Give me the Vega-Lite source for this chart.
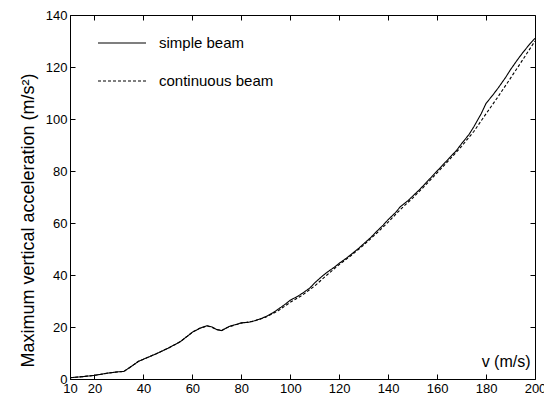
{
  "$schema": "https://vega.github.io/schema/vega-lite/v6.json",
  "width": 465,
  "height": 364,
  "autosize": {"type": "none"},
  "padding": {"left": 70, "top": 15, "right": 9, "bottom": 23},
  "background": "white",
  "config": {
    "view": {"stroke": "black", "strokeWidth": 1},
    "font": "Liberation Sans",
    "axis": {
      "domainColor": "black",
      "tickColor": "black",
      "labelColor": "black",
      "titleColor": "black",
      "grid": false,
      "labelFont": "Liberation Sans",
      "titleFont": "Liberation Sans",
      "labelFontSize": 13,
      "titleFontSize": 18,
      "titleFontWeight": "normal",
      "tickSize": -5
    }
  },
  "data": {
    "values": [
      {"v": 10, "a": 0.5, "s": "simple beam"},
      {"v": 15, "a": 0.9, "s": "simple beam"},
      {"v": 20, "a": 1.4, "s": "simple beam"},
      {"v": 25, "a": 2.2, "s": "simple beam"},
      {"v": 30, "a": 2.8, "s": "simple beam"},
      {"v": 32, "a": 2.9, "s": "simple beam"},
      {"v": 35, "a": 4.8, "s": "simple beam"},
      {"v": 38, "a": 6.8, "s": "simple beam"},
      {"v": 40, "a": 7.6, "s": "simple beam"},
      {"v": 45, "a": 9.6, "s": "simple beam"},
      {"v": 50, "a": 11.8, "s": "simple beam"},
      {"v": 55, "a": 14.3, "s": "simple beam"},
      {"v": 58, "a": 16.5, "s": "simple beam"},
      {"v": 60, "a": 18.0, "s": "simple beam"},
      {"v": 63, "a": 19.5, "s": "simple beam"},
      {"v": 66, "a": 20.5, "s": "simple beam"},
      {"v": 68, "a": 20.0, "s": "simple beam"},
      {"v": 70, "a": 19.0, "s": "simple beam"},
      {"v": 72, "a": 18.6, "s": "simple beam"},
      {"v": 75, "a": 20.2, "s": "simple beam"},
      {"v": 78, "a": 21.0, "s": "simple beam"},
      {"v": 80, "a": 21.6, "s": "simple beam"},
      {"v": 83, "a": 21.8, "s": "simple beam"},
      {"v": 85, "a": 22.3, "s": "simple beam"},
      {"v": 88, "a": 23.2, "s": "simple beam"},
      {"v": 90, "a": 24.0, "s": "simple beam"},
      {"v": 93, "a": 25.5, "s": "simple beam"},
      {"v": 95, "a": 26.8, "s": "simple beam"},
      {"v": 98, "a": 28.8, "s": "simple beam"},
      {"v": 100, "a": 30.3, "s": "simple beam"},
      {"v": 103, "a": 31.8, "s": "simple beam"},
      {"v": 105, "a": 33.0, "s": "simple beam"},
      {"v": 108, "a": 35.0, "s": "simple beam"},
      {"v": 110, "a": 37.0, "s": "simple beam"},
      {"v": 113, "a": 39.5, "s": "simple beam"},
      {"v": 115, "a": 41.0, "s": "simple beam"},
      {"v": 118, "a": 43.0, "s": "simple beam"},
      {"v": 120, "a": 44.5, "s": "simple beam"},
      {"v": 123, "a": 46.5, "s": "simple beam"},
      {"v": 125, "a": 48.0, "s": "simple beam"},
      {"v": 128, "a": 50.3, "s": "simple beam"},
      {"v": 130, "a": 52.0, "s": "simple beam"},
      {"v": 133, "a": 54.5, "s": "simple beam"},
      {"v": 135, "a": 56.5, "s": "simple beam"},
      {"v": 138, "a": 59.2, "s": "simple beam"},
      {"v": 140, "a": 61.3, "s": "simple beam"},
      {"v": 143, "a": 64.0, "s": "simple beam"},
      {"v": 145, "a": 66.3, "s": "simple beam"},
      {"v": 148, "a": 68.5, "s": "simple beam"},
      {"v": 150, "a": 70.3, "s": "simple beam"},
      {"v": 153, "a": 73.0, "s": "simple beam"},
      {"v": 155, "a": 75.0, "s": "simple beam"},
      {"v": 158, "a": 78.0, "s": "simple beam"},
      {"v": 160, "a": 80.0, "s": "simple beam"},
      {"v": 163, "a": 83.0, "s": "simple beam"},
      {"v": 165, "a": 85.0, "s": "simple beam"},
      {"v": 168, "a": 88.0, "s": "simple beam"},
      {"v": 170, "a": 90.5, "s": "simple beam"},
      {"v": 173, "a": 94.0, "s": "simple beam"},
      {"v": 175, "a": 97.0, "s": "simple beam"},
      {"v": 178, "a": 102.0, "s": "simple beam"},
      {"v": 180, "a": 106.0, "s": "simple beam"},
      {"v": 183, "a": 109.5, "s": "simple beam"},
      {"v": 185, "a": 112.0, "s": "simple beam"},
      {"v": 188, "a": 116.0, "s": "simple beam"},
      {"v": 190, "a": 119.0, "s": "simple beam"},
      {"v": 193, "a": 123.0, "s": "simple beam"},
      {"v": 195, "a": 125.5, "s": "simple beam"},
      {"v": 198, "a": 129.0, "s": "simple beam"},
      {"v": 200, "a": 131.0, "s": "simple beam"},
      {"v": 10, "a": 0.5, "s": "continuous beam"},
      {"v": 15, "a": 0.9, "s": "continuous beam"},
      {"v": 20, "a": 1.4, "s": "continuous beam"},
      {"v": 25, "a": 2.2, "s": "continuous beam"},
      {"v": 30, "a": 2.8, "s": "continuous beam"},
      {"v": 32, "a": 2.9, "s": "continuous beam"},
      {"v": 35, "a": 4.8, "s": "continuous beam"},
      {"v": 38, "a": 6.8, "s": "continuous beam"},
      {"v": 40, "a": 7.6, "s": "continuous beam"},
      {"v": 45, "a": 9.6, "s": "continuous beam"},
      {"v": 50, "a": 11.8, "s": "continuous beam"},
      {"v": 55, "a": 14.3, "s": "continuous beam"},
      {"v": 58, "a": 16.5, "s": "continuous beam"},
      {"v": 60, "a": 18.0, "s": "continuous beam"},
      {"v": 63, "a": 19.5, "s": "continuous beam"},
      {"v": 66, "a": 20.4, "s": "continuous beam"},
      {"v": 68, "a": 19.9, "s": "continuous beam"},
      {"v": 70, "a": 19.0, "s": "continuous beam"},
      {"v": 72, "a": 18.7, "s": "continuous beam"},
      {"v": 75, "a": 20.1, "s": "continuous beam"},
      {"v": 80, "a": 21.5, "s": "continuous beam"},
      {"v": 85, "a": 22.2, "s": "continuous beam"},
      {"v": 90, "a": 23.8, "s": "continuous beam"},
      {"v": 95, "a": 26.2, "s": "continuous beam"},
      {"v": 100, "a": 29.5, "s": "continuous beam"},
      {"v": 105, "a": 32.3, "s": "continuous beam"},
      {"v": 110, "a": 35.8, "s": "continuous beam"},
      {"v": 115, "a": 40.0, "s": "continuous beam"},
      {"v": 120, "a": 44.0, "s": "continuous beam"},
      {"v": 125, "a": 47.6, "s": "continuous beam"},
      {"v": 130, "a": 51.5, "s": "continuous beam"},
      {"v": 135, "a": 55.8, "s": "continuous beam"},
      {"v": 140, "a": 60.3, "s": "continuous beam"},
      {"v": 145, "a": 65.2, "s": "continuous beam"},
      {"v": 150, "a": 69.6, "s": "continuous beam"},
      {"v": 155, "a": 74.3, "s": "continuous beam"},
      {"v": 160, "a": 79.3, "s": "continuous beam"},
      {"v": 165, "a": 84.3, "s": "continuous beam"},
      {"v": 170, "a": 89.5, "s": "continuous beam"},
      {"v": 175, "a": 95.2, "s": "continuous beam"},
      {"v": 180, "a": 102.0, "s": "continuous beam"},
      {"v": 185, "a": 108.7, "s": "continuous beam"},
      {"v": 190, "a": 115.7, "s": "continuous beam"},
      {"v": 195, "a": 122.8, "s": "continuous beam"},
      {"v": 200, "a": 130.0, "s": "continuous beam"}
    ]
  },
  "layer": [
    {
      "mark": {"type": "line", "color": "black", "strokeWidth": 1.1},
      "encoding": {
        "x": {
          "field": "v", "type": "quantitative",
          "scale": {"domain": [10, 200], "nice": false, "zero": false},
          "axis": {"values": [10, 20, 40, 60, 80, 100, 120, 140, 160, 180, 200], "title": "v (m/s)",
            "labelPadding": 8, "labelFlush": false, "titleX": 460, "titleY": -10, "titleAlign": "right", "titleBaseline": "bottom", "titleFontSize": 16}
        },
        "y": {
          "field": "a", "type": "quantitative",
          "scale": {"domain": [0, 140], "nice": false},
          "axis": {"values": [0, 20, 40, 60, 80, 100, 120, 140], "title": "Maximum vertical acceleration (m/s²)", "labelPadding": 8, "titlePadding": 8, "titleY": 205}
        },
        "strokeDash": {
          "field": "s", "type": "nominal",
          "scale": {"domain": ["simple beam", "continuous beam"], "range": [[1, 0], [3, 2]]},
          "legend": {
            "title": null, "orient": "none", "legendX": 27, "legendY": 3,
            "symbolType": "stroke", "symbolSize": 2304, "symbolStrokeWidth": 1.1, "symbolStrokeColor": "black",
            "labelFontSize": 15, "labelFont": "Liberation Sans", "labelColor": "black", "labelOffset": 12, "rowPadding": 5
          }
        }
      }
    },
    {
      "mark": {"type": "line", "opacity": 0},
      "encoding": {
        "x": {"field": "v", "type": "quantitative", "axis": {"orient": "top", "values": [20, 40, 60, 80, 100, 120, 140, 160, 180, 200], "labels": false, "title": null, "domain": false}},
        "y": {"field": "a", "type": "quantitative", "axis": {"orient": "right", "values": [20, 40, 60, 80, 100, 120], "labels": false, "title": null, "domain": false}}
      }
    }
  ],
  "resolve": {"axis": {"x": "independent", "y": "independent"}}
}
